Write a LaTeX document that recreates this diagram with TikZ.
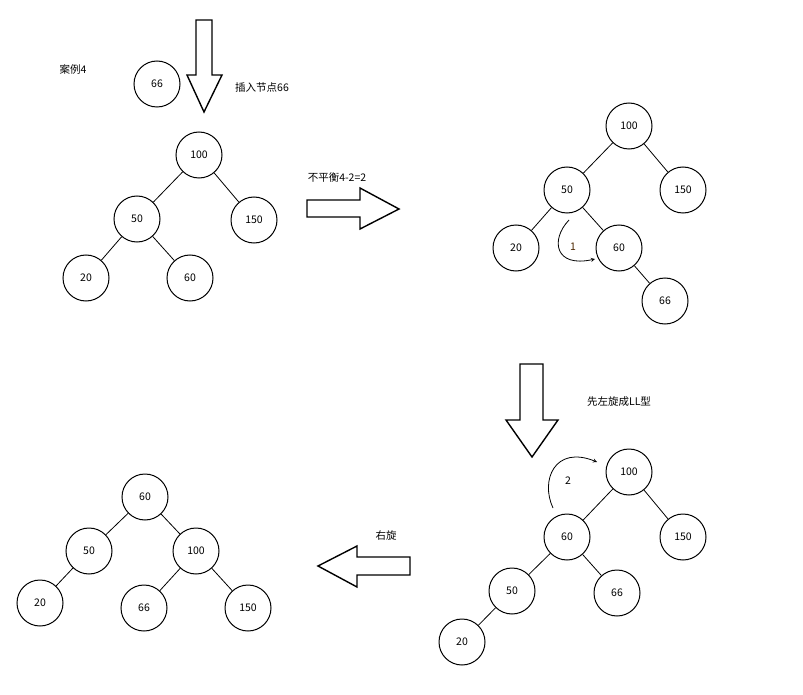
\documentclass[tikz,border=0pt]{standalone}
\usepackage{fontspec}
\setmainfont{Noto Sans CJK SC}
\begin{document}
\begin{tikzpicture}[x=1pt,y=-1pt,
  nd/.style={circle,draw,line width=1pt,minimum size=46pt,inner sep=0pt,font=\fontsize{10.5}{12}\selectfont},
  lb/.style={font=\fontsize{10.5}{12}\selectfont,inner sep=0pt},
  ed/.style={line width=0.8pt},
  bigarrow/.style={draw,line width=1.4pt,fill=white}]
\useasboundingbox (0,0) rectangle (803,695);
% top-left
\node[nd] (a66) at (157,84) {66};
\node[nd] (a100) at (199,155) {100};
\node[nd] (a50) at (137,219) {50};
\node[nd] (a150) at (254,220) {150};
\node[nd] (a20) at (86,278) {20};
\node[nd] (a60) at (190,278) {60};
\draw[ed] (a100)--(a50) (a100)--(a150) (a50)--(a20) (a50)--(a60);
\node[lb] (t1) at (73,69) {案例4};
\node[lb] (t2) at (262,88) {插入节点66};
\node[lb] (t3) at (337,178) {不平衡4-2=2};
\draw[bigarrow] (196,20)--(212,20)--(212,75)--(222,75)--(204,112)--(187,75)--(196,75)--cycle;
\draw[bigarrow] (307,200)--(360,200)--(360,188)--(399,209)--(360,229)--(360,217)--(307,217)--cycle;
% top-right
\node[nd] (b100) at (629,126) {100};
\node[nd] (b50) at (567,190) {50};
\node[nd] (b150) at (683,190) {150};
\node[nd] (b20) at (516,248) {20};
\node[nd] (b60) at (619,248) {60};
\node[nd] (b66) at (665,301) {66};
\draw[ed] (b100)--(b50) (b100)--(b150) (b50)--(b20) (b50)--(b60) (b60)--(b66);
\node[lb,text=black!70!orange] (l1) at (573,247) {1};
\coordinate (c1s) at (569,220);
\coordinate (c1e) at (595,259);
\draw[ed,-stealth] (c1s) .. controls (550,240) and (555,268) .. (c1e);
\draw[bigarrow] (520,364)--(543,364)--(543,420)--(558,420)--(532,457)--(506,420)--(520,420)--cycle;
\node[lb] (t4) at (619,402) {先左旋成LL型};
% bottom-right
\node[nd] (c100) at (629,472) {100};
\node[nd] (c60) at (567,537) {60};
\node[nd] (c150) at (683,537) {150};
\node[nd] (c50) at (512,591) {50};
\node[nd] (c66) at (617,593) {66};
\node[nd] (c20) at (462,642) {20};
\draw[ed] (c100)--(c60) (c100)--(c150) (c60)--(c50) (c60)--(c66) (c50)--(c20);
\node[lb] (l2) at (568,481) {2};
\coordinate (c2s) at (553,508);
\coordinate (c2e) at (597,462);
\draw[ed,-stealth] (c2s) .. controls (540,480) and (555,445) .. (c2e);
\draw[bigarrow] (410,557)--(357,557)--(357,546)--(318,566)--(357,587)--(357,575)--(410,575)--cycle;
\node[lb] (t5) at (386,536) {右旋};
% bottom-left
\node[nd] (d60) at (145,497) {60};
\node[nd] (d50) at (89,551) {50};
\node[nd] (d100) at (196,551) {100};
\node[nd] (d20) at (40,603) {20};
\node[nd] (d66) at (144,608) {66};
\node[nd] (d150) at (248,608) {150};
\draw[ed] (d60)--(d50) (d60)--(d100) (d50)--(d20) (d100)--(d66) (d100)--(d150);
\end{tikzpicture}
\end{document}
